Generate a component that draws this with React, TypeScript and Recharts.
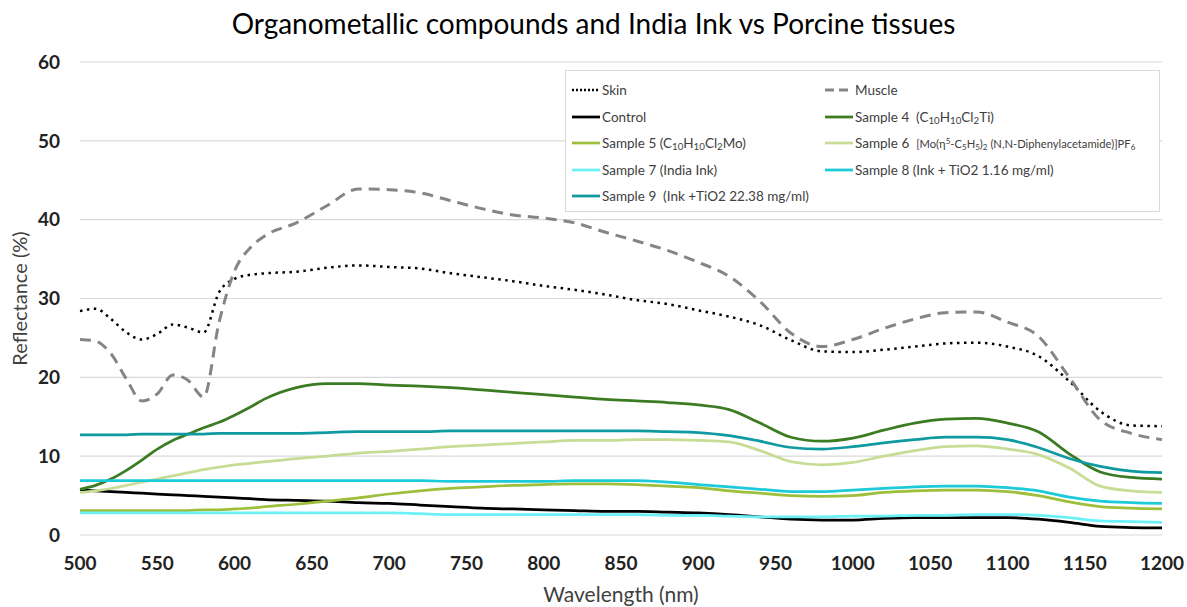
import React from 'react';
import { LineChart, Line, XAxis, YAxis, CartesianGrid } from 'recharts';

const wavelengths = [500, 510, 520, 530, 540, 550, 560, 570, 580, 590, 600, 610, 620, 640, 660, 680, 700, 720, 740, 760, 780, 800, 820, 840, 860, 880, 900, 920, 940, 960, 980, 1000, 1020, 1040, 1060, 1080, 1100, 1120, 1140, 1160, 1180, 1200];

const skin = [28.4, 28.7, 27.4, 25.7, 24.8, 25.5, 26.7, 26.3, 25.7, 30.8, 32.5, 33.0, 33.2, 33.4, 33.9, 34.2, 34.0, 33.8, 33.2, 32.7, 32.2, 31.6, 31.1, 30.5, 29.8, 29.3, 28.5, 27.7, 26.6, 24.7, 23.3, 23.2, 23.5, 23.9, 24.3, 24.4, 23.9, 22.7, 19.5, 15.7, 13.9, 13.8];
const muscle = [24.8, 24.6, 23.0, 19.8, 17.0, 17.9, 20.3, 19.6, 17.5, 27.0, 33.5, 36.4, 38.0, 39.6, 41.8, 43.9, 43.8, 43.4, 42.4, 41.4, 40.6, 40.2, 39.6, 38.4, 37.3, 36.1, 34.6, 32.8, 29.6, 25.6, 23.9, 24.8, 26.2, 27.4, 28.2, 28.3, 27.0, 25.2, 20.0, 14.6, 12.9, 12.1];
const control = [5.7, 5.6, 5.5, 5.4, 5.3, 5.2, 5.1, 5.0, 4.9, 4.8, 4.7, 4.6, 4.5, 4.4, 4.3, 4.1, 4.0, 3.8, 3.6, 3.4, 3.3, 3.2, 3.1, 3.0, 3.0, 2.9, 2.8, 2.6, 2.3, 2.0, 1.9, 1.9, 2.1, 2.2, 2.2, 2.2, 2.2, 2.0, 1.6, 1.1, 0.95, 0.9];
const sample4 = [5.8, 6.3, 7.1, 8.2, 9.5, 10.9, 12.0, 12.8, 13.6, 14.3, 15.2, 16.2, 17.3, 18.7, 19.2, 19.2, 19.0, 18.9, 18.7, 18.4, 18.1, 17.8, 17.5, 17.2, 17.0, 16.8, 16.5, 15.9, 14.2, 12.4, 11.9, 12.3, 13.3, 14.2, 14.7, 14.8, 14.2, 13.1, 10.3, 8.0, 7.3, 7.1];
const sample5 = [3.1, 3.1, 3.1, 3.1, 3.1, 3.1, 3.1, 3.1, 3.2, 3.2, 3.3, 3.4, 3.6, 3.9, 4.3, 4.7, 5.2, 5.6, 5.9, 6.1, 6.3, 6.4, 6.5, 6.5, 6.4, 6.2, 6.0, 5.6, 5.3, 5.0, 4.9, 5.0, 5.4, 5.6, 5.7, 5.7, 5.5, 5.0, 4.2, 3.6, 3.4, 3.3];
const sample6 = [5.4, 5.6, 5.9, 6.3, 6.7, 7.1, 7.5, 7.9, 8.3, 8.6, 8.9, 9.1, 9.3, 9.7, 10.0, 10.4, 10.6, 10.9, 11.2, 11.4, 11.6, 11.8, 12.0, 12.0, 12.1, 12.1, 12.0, 11.8, 10.7, 9.3, 8.9, 9.2, 10.0, 10.7, 11.2, 11.3, 10.9, 10.2, 8.5, 6.2, 5.6, 5.4];
const sample7 = [2.8, 2.8, 2.8, 2.8, 2.8, 2.8, 2.8, 2.8, 2.8, 2.8, 2.8, 2.8, 2.8, 2.8, 2.8, 2.8, 2.8, 2.7, 2.6, 2.6, 2.6, 2.6, 2.6, 2.6, 2.6, 2.5, 2.5, 2.4, 2.3, 2.3, 2.3, 2.4, 2.4, 2.5, 2.5, 2.6, 2.6, 2.5, 2.2, 1.8, 1.7, 1.6];
const sample8 = [6.9, 6.9, 6.9, 6.9, 6.9, 6.9, 6.9, 6.9, 6.9, 6.9, 6.9, 6.9, 6.9, 6.9, 6.9, 6.9, 6.9, 6.9, 6.8, 6.8, 6.8, 6.8, 6.9, 6.9, 6.9, 6.7, 6.4, 6.1, 5.8, 5.5, 5.5, 5.7, 5.9, 6.1, 6.2, 6.2, 6.0, 5.6, 4.8, 4.3, 4.1, 4.0];
const sample9 = [12.7, 12.7, 12.7, 12.7, 12.8, 12.8, 12.8, 12.8, 12.8, 12.9, 12.9, 12.9, 12.9, 12.9, 13.0, 13.1, 13.1, 13.1, 13.2, 13.2, 13.2, 13.2, 13.2, 13.2, 13.2, 13.1, 13.0, 12.6, 11.9, 11.1, 10.9, 11.2, 11.7, 12.1, 12.4, 12.4, 12.1, 11.1, 9.7, 8.7, 8.1, 7.9];

const xTicks = [500, 550, 600, 650, 700, 750, 800, 850, 900, 950, 1000, 1050, 1100, 1150, 1200];
const yTicks = [0, 10, 20, 30, 40, 50, 60];

const data = wavelengths.map((wl, i) => ({
  wl,
  skin: skin[i],
  muscle: muscle[i],
  control: control[i],
  sample4: sample4[i],
  sample5: sample5[i],
  sample6: sample6[i],
  sample7: sample7[i],
  sample8: sample8[i],
  sample9: sample9[i],
}));

const FONT = 'Lato, "Open Sans", sans-serif';
const subS: React.CSSProperties = { fontSize: '0.72em', verticalAlign: '-0.25em', lineHeight: 0 };
const supS: React.CSSProperties = { fontSize: '0.72em', verticalAlign: '0.45em', lineHeight: 0 };

const series = [
  { key: 'skin', color: '#000000', width: 2.5, dash: '2.5 4.5', label: <>Skin</> },
  { key: 'muscle', color: '#858585', width: 3, dash: '11 7', label: <>Muscle</> },
  { key: 'control', color: '#000000', width: 2.75, dash: undefined, label: <>Control</> },
  {
    key: 'sample4', color: '#3b7b22', width: 2.75, dash: undefined,
    label: <>Sample 4&nbsp; (C<span style={subS}>10</span>H<span style={subS}>10</span>Cl<span style={subS}>2</span>Ti)</>,
  },
  {
    key: 'sample5', color: '#9dbf3b', width: 2.75, dash: undefined,
    label: <>Sample 5 (C<span style={subS}>10</span>H<span style={subS}>10</span>Cl<span style={subS}>2</span>Mo)</>,
  },
  {
    key: 'sample6', color: '#c7dd96', width: 2.75, dash: undefined,
    label: (
      <>
        Sample 6&nbsp;{' '}
        <span style={{ fontSize: 11.2 }}>
          [Mo(η<span style={supS}>5</span>-C<span style={subS}>5</span>H<span style={subS}>5</span>)<span style={subS}>2</span> (N,N-Diphenylacetamide)]PF<span style={subS}>6</span>
        </span>
      </>
    ),
  },
  { key: 'sample7', color: '#6cf0f8', width: 2.75, dash: undefined, label: <>Sample 7 (India Ink)</> },
  { key: 'sample8', color: '#1ccad9', width: 2.75, dash: undefined, label: <>Sample 8 (Ink + TiO2 1.16 mg/ml)</> },
  { key: 'sample9', color: '#0e9aa0', width: 2.75, dash: undefined, label: <>Sample 9&nbsp; (Ink +TiO2 22.38 mg/ml)</> },
];

const XTitle = (props: any) => {
  const vb = props.viewBox || {};
  return (
    <text
      x={vb.x + vb.width / 2}
      y={vb.y + vb.height - 5}
      textAnchor="middle"
      fontFamily={FONT}
      fontSize={21}
      fill="#404040"
    >
      Wavelength (nm)
    </text>
  );
};

const YTitle = (props: any) => {
  const vb = props.viewBox || {};
  const cx = vb.x + 27;
  const cy = vb.y + vb.height / 2;
  return (
    <text
      x={cx}
      y={cy}
      transform={`rotate(-90, ${cx}, ${cy})`}
      textAnchor="middle"
      fontFamily={FONT}
      fontSize={20}
      fill="#404040"
    >
      Reflectance (%)
    </text>
  );
};

const Swatch = ({ color, width, dash }: { color: string; width: number; dash?: string }) => (
  <svg width={28} height={10} style={{ display: 'block', flex: '0 0 auto' }}>
    <line x1={0} y1={5} x2={28} y2={5} stroke={color} strokeWidth={width} strokeDasharray={dash} />
  </svg>
);

export default function App() {
  return (
    <div style={{ position: 'absolute', left: 0, top: 0, width: 1187, height: 607, background: '#ffffff', fontFamily: FONT }}>
      <LineChart width={1187} height={607} data={data} margin={{ top: 62, right: 25, left: 0, bottom: 0 }}>
        <CartesianGrid vertical={false} stroke="#d9d9d9" strokeWidth={1.2} />
        <XAxis
          dataKey="wl"
          type="number"
          domain={[500, 1200]}
          ticks={xTicks}
          height={72}
          tickLine={false}
          axisLine={false}
          tickSize={0}
          tickMargin={22}
          interval={0}
          tick={{ fontSize: 19, fontWeight: 700, fill: '#222222', fontFamily: FONT }}
          label={{ content: XTitle }}
        />
        <YAxis
          type="number"
          domain={[0, 60]}
          ticks={yTicks}
          width={80}
          tickLine={false}
          axisLine={false}
          tickSize={0}
          tickMargin={20}
          interval={0}
          tick={{ fontSize: 19, fontWeight: 700, fill: '#222222', fontFamily: FONT }}
          label={{ content: YTitle }}
        />
        {series.map((s) => (
          <Line
            key={s.key}
            type="monotone"
            dataKey={s.key}
            stroke={s.color}
            strokeWidth={s.width}
            strokeDasharray={s.dash}
            dot={false}
            activeDot={false}
            isAnimationActive={false}
          />
        ))}
      </LineChart>

      <div
        style={{
          position: 'absolute', top: 6, left: 0, width: 1187, textAlign: 'center',
          fontSize: 28, lineHeight: '34px', color: '#000000', fontFamily: FONT,
        }}
      >
        Organometallic compounds and India Ink vs Porcine tissues
      </div>

      <div
        style={{
          position: 'absolute', left: 565, top: 70, width: 595, height: 142, boxSizing: 'border-box',
          border: '1.5px solid #d9d9d9', background: '#ffffff', paddingTop: 5,
        }}
      >
        {series.map((s, i) => (
          <div
            key={s.key}
            style={{
              position: 'absolute',
              left: i % 2 === 0 ? 6 : 259,
              top: 6 + Math.floor(i / 2) * 26.5,
              height: 26,
              display: 'flex',
              alignItems: 'center',
              fontSize: 13.5,
              color: '#404040',
              whiteSpace: 'nowrap',
              fontFamily: FONT,
            }}
          >
            <Swatch color={s.color} width={s.width} dash={s.key === 'skin' ? '2 2' : s.key === 'muscle' ? '9 5' : undefined} />
            <span style={{ marginLeft: 2 }}>{s.label}</span>
          </div>
        ))}
      </div>
    </div>
  );
}
